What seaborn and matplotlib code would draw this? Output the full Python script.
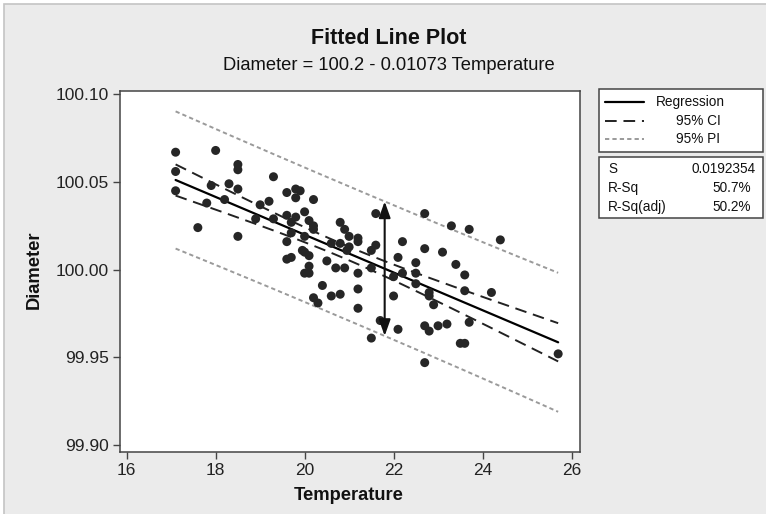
import numpy as np
import pandas as pd
import matplotlib
matplotlib.use("Agg")
import matplotlib.pyplot as plt
import seaborn as sns
from matplotlib.patches import Rectangle
from matplotlib.lines import Line2D

# Values
temperature = [
    17.1, 17.1, 17.1, 17.6, 17.8, 17.9, 18.0, 18.2, 18.3, 18.5,
    18.5, 18.5, 18.5, 18.9, 19.0, 19.2, 19.3, 19.3, 19.6, 19.6,
    19.6, 19.6, 19.7, 19.7, 19.7, 19.8, 19.8, 19.8, 19.9, 19.95,
    20.0, 20.0, 20.0, 20.0, 20.1, 20.1, 20.1, 20.1, 20.2, 20.2,
    20.2, 20.2, 20.3, 20.4, 20.5, 20.6, 20.6, 20.7, 20.8, 20.8,
    20.8, 20.9, 20.9, 20.95, 21.0, 21.0, 21.2, 21.2, 21.2, 21.2,
    21.2, 21.5, 21.5, 21.5, 21.6, 21.6, 21.7, 22.0, 22.0, 22.1,
    22.1, 22.2, 22.2, 22.5, 22.5, 22.5, 22.7, 22.7, 22.7, 22.7,
    22.8, 22.8, 22.8, 22.9, 23.0, 23.1, 23.2, 23.3, 23.4, 23.5,
    23.6, 23.6, 23.6, 23.7, 23.7, 24.2, 24.4, 25.7,
]
diameter = [
    100.067, 100.056, 100.045, 100.024, 100.038, 100.048, 100.068, 100.040, 100.049, 100.060,
    100.057, 100.046, 100.019, 100.029, 100.037, 100.039, 100.053, 100.029, 100.044, 100.031,
    100.016, 100.006, 100.007, 100.021, 100.027, 100.046, 100.041, 100.030, 100.045, 100.011,
    100.033, 100.019, 99.998, 100.010, 100.028, 100.008, 100.002, 99.998, 100.025, 100.023,
    100.040, 99.984, 99.981, 99.991, 100.005, 100.015, 99.985, 100.001, 100.027, 100.015,
    99.986, 100.023, 100.001, 100.011, 100.019, 100.013, 100.018, 100.016, 99.998, 99.989,
    99.978, 100.011, 100.001, 99.961, 100.032, 100.014, 99.971, 99.996, 99.985, 100.007,
    99.966, 100.016, 99.998, 100.004, 99.998, 99.992, 100.032, 100.012, 99.968, 99.947,
    99.987, 99.985, 99.965, 99.980, 99.968, 100.010, 99.969, 100.025, 100.003, 99.958,
    99.997, 99.988, 99.958, 100.023, 99.970, 99.987, 100.017, 99.952,
]

title = "Fitted Line Plot"
subtitle = "Diameter = 100.2 - 0.01073 Temperature"
legend_labels = ["Regression", "95% CI", "95% PI"]
stat_names = ["S", "R-Sq", "R-Sq(adj)"]
stat_values = ["0.0192354", "50.7%", "50.2%"]
x_ticks = [16, 18, 20, 22, 24, 26]
y_ticks = [99.90, 99.95, 100.00, 100.05, 100.10]
arrow_x = 21.8
T_CRIT = 1.985  # t(0.975, n-2)

df = pd.DataFrame({"Temperature": temperature, "Diameter": diameter})

# least squares fit with confidence / prediction bands
n = len(df)
slope, intercept = np.polyfit(df["Temperature"], df["Diameter"], 1)
resid = df["Diameter"] - (intercept + slope * df["Temperature"])
s = np.sqrt((resid ** 2).sum() / (n - 2))
xbar = df["Temperature"].mean()
sxx = ((df["Temperature"] - xbar) ** 2).sum()

grid = np.linspace(df["Temperature"].min(), df["Temperature"].max(), 200)
fit = intercept + slope * grid
se_fit = s * np.sqrt(1 / n + (grid - xbar) ** 2 / sxx)
se_pred = s * np.sqrt(1 + 1 / n + (grid - xbar) ** 2 / sxx)

sns.set_theme(style="ticks")
plt.rcParams["font.family"] = ["Liberation Sans", "DejaVu Sans"]

W, H = 766, 514
fig = plt.figure(figsize=(W / 100, H / 100), dpi=100)
fig.patch.set_facecolor("white")
fig.patches.append(Rectangle((4 / W, -0.02), 1.0, 1 - 4 / H + 0.02, transform=fig.transFigure,
                             facecolor="#ebebeb", edgecolor="#c4c4c4", linewidth=1.2, zorder=-5))

ax = fig.add_axes([120 / W, 1 - 451.7 / H, 460.4 / W, 360.7 / H])
ax.set_facecolor("white")

sns.scatterplot(data=df, x="Temperature", y="Diameter", ax=ax, s=42,
                color="#262626", edgecolor="none", zorder=3)

ax.plot(grid, fit, color="black", lw=1.6, zorder=2)
ax.plot(grid, fit + T_CRIT * se_fit, color="#222222", lw=1.4, ls=(0, (6, 3.5)), zorder=2)
ax.plot(grid, fit - T_CRIT * se_fit, color="#222222", lw=1.4, ls=(0, (6, 3.5)), zorder=2)
ax.plot(grid, fit + T_CRIT * se_pred, color="#9a9a9a", lw=1.4, ls=(0, (2.2, 1.6)), zorder=2)
ax.plot(grid, fit - T_CRIT * se_pred, color="#9a9a9a", lw=1.4, ls=(0, (2.2, 1.6)), zorder=2)

# double arrow across the prediction interval
y_mid = intercept + slope * arrow_x
half = T_CRIT * s * np.sqrt(1 + 1 / n + (arrow_x - xbar) ** 2 / sxx)
ax.annotate("", xy=(arrow_x, y_mid + half), xytext=(arrow_x, y_mid - half),
            arrowprops=dict(arrowstyle="<|-|>,head_length=0.7,head_width=0.25", color="#111111",
                            lw=1.5, mutation_scale=14, shrinkA=0, shrinkB=0), zorder=4)

ax.set_xlim(15.85, 26.2)
ax.set_ylim(99.8962, 100.1019)
ax.set_xticks(x_ticks)
ax.set_yticks(y_ticks)
ax.set_yticklabels([f"{v:.2f}" for v in y_ticks])
ax.tick_params(length=5, width=1, color="#444444", labelsize=12.5, labelcolor="#222222", pad=3)
ax.set_xlabel("")
ax.set_ylabel("")
for sp in ax.spines.values():
    sp.set_visible(True)
    sp.set_color("#444444")
    sp.set_linewidth(1.1)

fig.text(389 / W, 1 - 39 / H, title, ha="center", va="center", fontsize=15.5, fontweight="bold", color="#111111")
fig.text(389 / W, 1 - 65 / H, subtitle, ha="center", va="center", fontsize=13.2, color="#111111")
fig.text(348.5 / W, 1 - 495 / H, "Temperature", ha="center", va="center", fontsize=13.2,
         fontweight="bold", color="#111111")
fig.text(34 / W, 1 - 270 / H, "Diameter", ha="center", va="center", rotation=90, fontsize=13.2,
         fontweight="bold", color="#111111")

# legend box
fig.patches.append(Rectangle((599 / W, 1 - 151.7 / H), 164 / W, 62.7 / H, transform=fig.transFigure,
                             facecolor="white", edgecolor="#444444", linewidth=1.1, zorder=1))
styles = [dict(color="black", lw=1.6, ls="-"),
          dict(color="#222222", lw=1.4, ls=(0, (6, 3.5))),
          dict(color="#9a9a9a", lw=1.4, ls=(0, (2.2, 1.6)))]
rows = [102, 121, 139]
text_x = [656, 676, 676]
for lab, st, ry, tx in zip(legend_labels, styles, rows, text_x):
    fig.lines.append(Line2D([605 / W, 644 / W], [1 - ry / H] * 2, transform=fig.transFigure, **st))
    fig.text(tx / W, 1 - ry / H, lab, ha="left", va="center", fontsize=9.8, color="#111111")

# stats box
fig.patches.append(Rectangle((599 / W, 1 - 218.3 / H), 164 / W, 61.3 / H, transform=fig.transFigure,
                             facecolor="white", edgecolor="#444444", linewidth=1.1, zorder=1))
stat_rows = [169, 188, 207]
value_x = [756, 751, 751]
for name, val, ry, vx in zip(stat_names, stat_values, stat_rows, value_x):
    fig.text(608 / W, 1 - ry / H, name, ha="left", va="center", fontsize=9.8, color="#111111")
    fig.text(vx / W, 1 - ry / H, val, ha="right", va="center", fontsize=9.8, color="#111111")

fig.savefig("out.png", dpi=100, facecolor=fig.get_facecolor())
